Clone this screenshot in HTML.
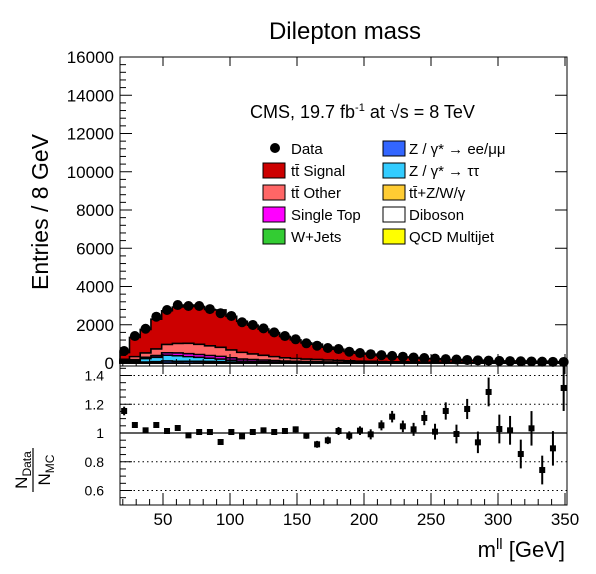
<!DOCTYPE html>
<html><head><meta charset="utf-8"><style>
html,body{margin:0;padding:0;background:#fff}
svg text{font-family:"Liberation Sans",sans-serif}
</style></head><body>
<svg id="c" width="596" height="569" viewBox="0 0 596 569" xmlns="http://www.w3.org/2000/svg">
<text x="345" y="39" font-size="24" text-anchor="middle">Dilepton mass</text>
<text transform="translate(48,212) rotate(-90)" font-size="23" text-anchor="middle">Entries / 8 GeV</text>
<g id="main"></g>
<g id="ratio"></g>
<g id="axes"></g>
<text x="565" y="557" font-size="22" text-anchor="end">m<tspan font-size="15" dy="-8">ll</tspan><tspan dy="8"> [GeV]</tspan></text>
<g transform="translate(13,470)">
<g transform="rotate(-90)"><text x="0" y="14" font-size="17" text-anchor="middle">N<tspan font-size="12" dy="4">Data</tspan></text>
<line x1="-22" y1="20" x2="22" y2="20" stroke="#000" stroke-width="1.2"/>
<text x="0" y="37" font-size="17" text-anchor="middle">N<tspan font-size="12" dy="4">MC</tspan></text></g></g>
<text x="250" y="118" font-size="18">CMS, 19.7 fb<tspan font-size="11" dy="-7">-1</tspan><tspan dy="7"> at  √s =  8 TeV</tspan></text>
<g id="legend"></g>
</svg>
<script>
const binStart = 17, binWidth = 8;
const dataCounts = [627,1410,1790,2420,2770,3030,2980,2980,2820,2600,2460,2130,1990,1810,1600,1410,1240,1030,905,785,730,590,520,460,410,370,330,290,260,230,200,180,160,140,125,110,100,90,80,70,62,55];
const ratioY = [153,195,211,195,213,204,226,216,216,246,216,229,216,211,216,213,208,227,253,241,213,227,212,223,196,170,199,208,174,215,153,222,147,247,96,207,211,282,205,330,265,84];
const ratioErr = [0.03,0.02,0.015,0.015,0.012,0.012,0.012,0.012,0.012,0.012,0.013,0.014,0.015,0.016,0.017,0.018,0.02,0.022,0.024,0.026,0.028,0.03,0.03,0.035,0.035,0.04,0.04,0.045,0.05,0.055,0.06,0.065,0.07,0.075,0.1,0.1,0.1,0.1,0.12,0.1,0.12,0.16];
const fracZtt = [0.12,0.06,0.1,0.1,0.11,0.1,0.08,0.07,0.06,0.05,0.04,0.03,0.025,0.02,0.02,0.015,0.015,0.015,0.01,0.01,0.01,0.01,0.01,0.01,0.01,0.01,0.01,0.01,0.01,0.01,0.01,0.01,0.01,0.01,0.01,0.01,0.01,0.01,0.01,0.01,0.01,0.01];
const fracST = [0.04,0.04,0.04,0.04,0.045,0.05,0.05,0.05,0.05,0.05,0.05,0.05,0.05,0.05,0.05,0.05,0.05,0.05,0.05,0.05,0.05,0.05,0.05,0.05,0.05,0.05,0.05,0.05,0.05,0.05,0.05,0.05,0.05,0.05,0.05,0.05,0.05,0.05,0.05,0.05,0.05,0.05];
const fracOther = [0.12,0.12,0.13,0.15,0.16,0.17,0.18,0.18,0.18,0.17,0.17,0.16,0.15,0.14,0.13,0.12,0.12,0.12,0.12,0.12,0.12,0.12,0.12,0.12,0.12,0.12,0.12,0.12,0.12,0.12,0.12,0.12,0.12,0.12,0.12,0.12,0.12,0.12,0.12,0.12,0.12,0.12];
const fracZee = [0.08,0.03,0.03,0.03,0.04,0.03,0.03,0.03,0.03,0.025,0.02,0.015,0.015,0.015,0.01,0.01,0.01,0.01,0.01,0.01,0.01,0.01,0.01,0.01,0.01,0.01,0.01,0.01,0.01,0.01,0.01,0.01,0.01,0.01,0.01,0.01,0.01,0.01,0.01,0.01,0.01,0.01];
const yTicks = [0,2000,4000,6000,8000,10000,12000,14000,16000];
const rTicks = [0.6,0.8,1,1.2,1.4];
const xTicks = [50,100,150,200,250,300,350];

const NS="http://www.w3.org/2000/svg";
const L=120,R=567,T=57,B=363,RT=366,RB=505;
const X=v=>163+(v-50)*1.34;
const Y=v=>B-(v/16000)*(B-T);
const YR=v=>433-(v-1)*143.75;
function mk(tag,attrs,parent){const e=document.createElementNS(NS,tag);for(const k in attrs)e.setAttribute(k,attrs[k]);parent.appendChild(e);return e;}
const main=document.getElementById('main'),ratio=document.getElementById('ratio'),axes=document.getElementById('axes');
const n=dataCounts.length;
const ratios=ratioY.map(y=>1+(219-y)/431);
const mc=dataCounts.map((d,i)=>d/ratios[i]);
const layers=[
 {name:'zee',color:'#3366ff',f:i=>fracZee[i]},
 {name:'ztt',color:'#33ccff',f:i=>fracZtt[i]},
 {name:'single-top',color:'#ff00ff',f:i=>fracST[i]},
 {name:'tt-other',color:'#ff6666',f:i=>fracOther[i]},
 {name:'tt-signal',color:'#cc0000',f:i=>1-fracZee[i]-fracZtt[i]-fracST[i]-fracOther[i]}
];
const cum=new Array(n).fill(0);
const stackTops=[];
layers.forEach(ly=>{
 const tops=cum.map((c,i)=>c+mc[i]*ly.f(i));
 stackTops.push({ly,tops:tops.slice()});
 tops.forEach((t,i)=>cum[i]=t);
});
for(let k=stackTops.length-1;k>=0;k--){
 const {ly,tops}=stackTops[k];
 let d=`M${L},${B}`;
 for(let i=0;i<n;i++){const x0=Math.max(L,X(binStart+i*binWidth)),x1=Math.min(R,X(binStart+(i+1)*binWidth));d+=`L${x0},${Y(tops[i])}L${x1},${Y(tops[i])}`;}
 d+=`L${R},${B}Z`;
 const p=mk('path',{d,fill:ly.color,stroke:'#000','stroke-width':1.6},main);
 
 
}
for(let i=0;i<n;i++){
 const cx=X(binStart+(i+0.5)*binWidth),cy=Y(dataCounts[i]);
 const c=mk('circle',{cx,cy,r:5,fill:'#000'},main);
 
 
}
rTicks.forEach(v=>{if(v!==1)mk('line',{x1:L,x2:R,y1:YR(v),y2:YR(v),stroke:'#000','stroke-dasharray':'1.5,3','stroke-width':1},ratio);});
mk('line',{x1:L,x2:R,y1:YR(1),y2:YR(1),stroke:'#000','stroke-width':1.2},ratio);
for(let i=0;i<n;i++){
 const cx=X(binStart+(i+0.5)*binWidth),r=ratios[i],e=ratioErr[i];
 mk('line',{x1:cx,x2:cx,y1:Math.max(RT,YR(r+e)),y2:Math.min(RB,YR(r-e)),stroke:'#000','stroke-width':2},ratio);
 const s=mk('rect',{x:cx-3,y:YR(r)-3,width:6,height:6,fill:'#000'},ratio);
 
 
}
mk('rect',{x:L,y:T,width:R-L,height:B-T+3,fill:'none',stroke:'#000','stroke-width':1},axes);
mk('rect',{x:L,y:RT,width:R-L,height:RB-RT,fill:'none',stroke:'#000','stroke-width':1},axes);
yTicks.forEach(v=>{const y=Y(v);mk('line',{x1:L,x2:L+12,y1:y,y2:y,stroke:'#000'},axes);mk('line',{x1:R,x2:R-12,y1:y,y2:y,stroke:'#000'},axes);
 const t=mk('text',{x:114,y:y+6,'font-size':17,'text-anchor':'end'},axes);t.textContent=v;});
for(let v=400;v<16000;v+=400){if(v%2000)mk('line',{x1:L,x2:L+6,y1:Y(v),y2:Y(v),stroke:'#000'},axes);}
rTicks.forEach(v=>{const t=mk('text',{x:104,y:YR(v)+5,'font-size':14,'text-anchor':'end'},axes);t.textContent=v;});
for(let v=0.55;v<1.47;v+=0.05){mk('line',{x1:L,x2:L+(Math.abs(v*10-Math.round(v*10))<0.01&&Math.round(v*10)%2===0?12:6),y1:YR(v),y2:YR(v),stroke:'#000'},axes);}
xTicks.forEach(v=>{const x=X(v);[[B+3,B-9],[T,T+9],[RB,RB-12],[RT,RT+8]].forEach(([a,b])=>mk('line',{x1:x,x2:x,y1:a,y2:b,stroke:'#000'},axes));
 const t=mk('text',{x,y:525,'font-size':17,'text-anchor':'middle'},axes);t.textContent=v;});
for(let v=20;v<=350;v+=10){if(v%50){const x=X(v);mk('line',{x1:x,x2:x,y1:RB,y2:RB-6,stroke:'#000'},axes);mk('line',{x1:x,x2:x,y1:B+3,y2:B-4,stroke:'#000'},axes);}}
const lg=document.getElementById('legend');
const legL=[['Data',null],['tt̄ Signal','#cc0000'],['tt̄ Other','#ff6666'],['Single Top','#ff00ff'],['W+Jets','#33cc33']];
const legR=[['Z / γ* → ee/μμ','#3366ff'],['Z / γ* → ττ','#33ccff'],['tt̄+Z/W/γ','#ffcc33'],['Diboson','#ffffff'],['QCD Multijet','#ffff00']];
const rows=[148,170,192,214,236];
function entry(label,col,bx,tx,y){
 const g=mk('g',{},lg);
 
 
 if(col===null)mk('circle',{cx:bx+12,cy:y,r:5,fill:'#000'},g);
 else mk('rect',{x:bx,y:y-7,width:22,height:15,fill:col,stroke:'#000','stroke-width':1},g);
 const t=mk('text',{x:tx,y:y+6,'font-size':15},g);t.textContent=label;
}
legL.forEach((e,i)=>entry(e[0],e[1],263,291,rows[i]));
legR.forEach((e,i)=>entry(e[0],e[1],383,409,rows[i]));
</script>
</body></html>
